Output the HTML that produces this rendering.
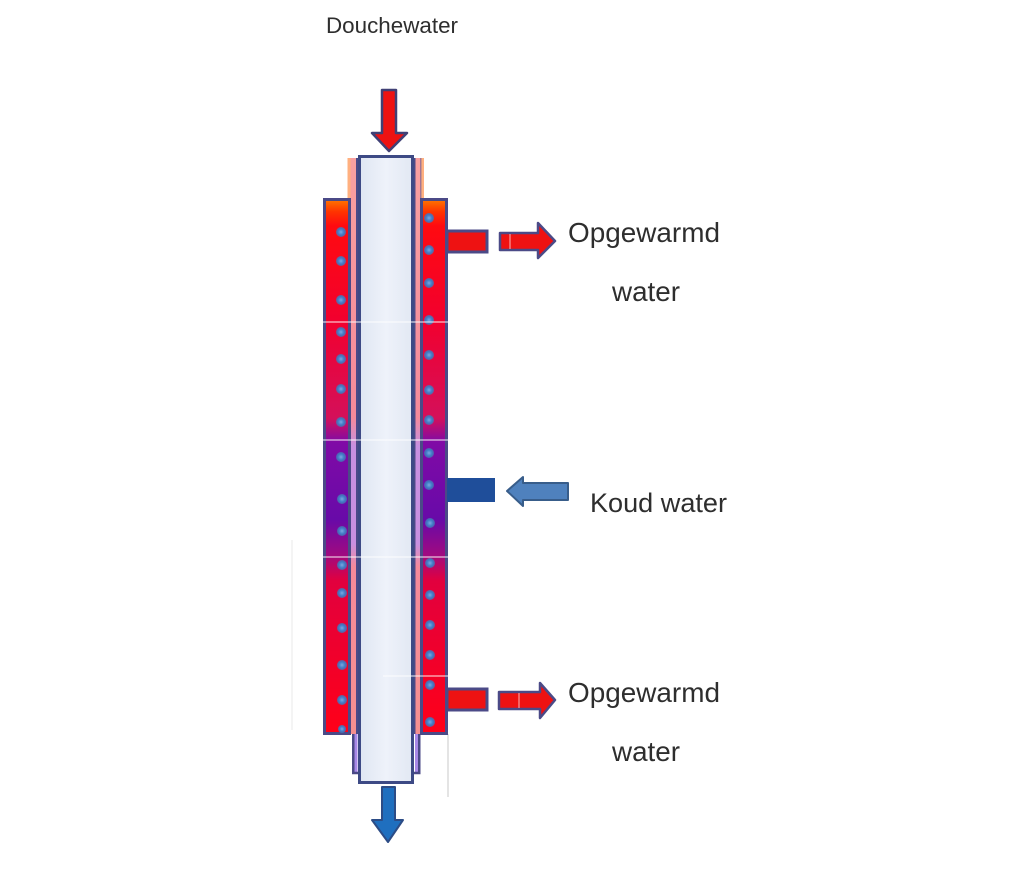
<!DOCTYPE html>
<html>
<head>
<meta charset="utf-8">
<style>
html,body{margin:0;padding:0;background:#fff;}
svg{display:block;}
text{font-family:"Liberation Sans",Arial,sans-serif;fill:#2e2e2e;}
</style>
</head>
<body>
<svg width="1020" height="880" viewBox="0 0 1020 880" xmlns="http://www.w3.org/2000/svg">
<defs>
<linearGradient id="jg" gradientUnits="userSpaceOnUse" x1="0" y1="199" x2="0" y2="733">
<stop offset="0" stop-color="#ff7a00"/>
<stop offset="0.024" stop-color="#ff3300"/>
<stop offset="0.05" stop-color="#ff0a10"/>
<stop offset="0.227" stop-color="#f2002e"/>
<stop offset="0.41" stop-color="#d4105a"/>
<stop offset="0.455" stop-color="#800aa6"/>
<stop offset="0.6" stop-color="#680aa8"/>
<stop offset="0.667" stop-color="#a00a80"/>
<stop offset="0.715" stop-color="#e2003e"/>
<stop offset="1" stop-color="#ff0018"/>
</linearGradient>
<linearGradient id="tg" x1="0" y1="0" x2="1" y2="0">
<stop offset="0" stop-color="#dfe6f2"/>
<stop offset="0.5" stop-color="#eef2fa"/>
<stop offset="1" stop-color="#e2e8f3"/>
</linearGradient>
<linearGradient id="pg" gradientUnits="userSpaceOnUse" x1="0" y1="158" x2="0" y2="734">
<stop offset="0" stop-color="#f8a0a0"/>
<stop offset="0.45" stop-color="#f58a9a"/>
<stop offset="0.5" stop-color="#c890e0"/>
<stop offset="0.67" stop-color="#c890e0"/>
<stop offset="0.71" stop-color="#f58a9a"/>
<stop offset="1" stop-color="#f59090"/>
</linearGradient>
<radialGradient id="dg">
<stop offset="0" stop-color="#7aa8e0"/>
<stop offset="0.6" stop-color="#3f7cc6"/>
<stop offset="1" stop-color="#4a6fb0" stop-opacity="0.8"/>
</radialGradient>
</defs>
<rect width="1020" height="880" fill="#fff"/>

<!-- faint lines -->
<line x1="448" y1="734" x2="448" y2="797" stroke="#e4e4e4" stroke-width="2"/>
<line x1="292" y1="540" x2="292" y2="730" stroke="#f0f0f0" stroke-width="1.5"/>

<!-- top red arrow -->
<polygon points="382,90 396,90 396,133 407,133 389,151 372,133 382,133" fill="#ee1212" stroke="#404075" stroke-width="2.5" stroke-linejoin="round"/>

<!-- orange tint above jacket -->
<rect x="347.5" y="158" width="3" height="41" fill="#ffb080"/>
<rect x="421" y="158" width="3" height="41" fill="#ffb080"/>

<!-- pink lines -->
<rect x="350.5" y="158" width="6" height="576" fill="url(#pg)"/>
<rect x="415" y="158" width="6" height="576" fill="url(#pg)"/>
<!-- dark separators -->
<rect x="356" y="158" width="3" height="576" fill="#4b4a87"/>
<rect x="413" y="158" width="2.5" height="576" fill="#4b4a87"/>
<rect x="420" y="158" width="1.5" height="41" fill="#6a5a90" opacity="0.6"/>

<!-- jackets -->
<rect x="324.5" y="199.5" width="25" height="534" fill="url(#jg)" stroke="#4b4a87" stroke-width="3"/>
<rect x="421.5" y="199.5" width="25" height="534" fill="url(#jg)" stroke="#4b4a87" stroke-width="3"/>

<!-- bottom pipe section -->
<rect x="352" y="734" width="2.5" height="40" fill="#4b4a87"/>
<rect x="354.5" y="734" width="3" height="40" fill="#a888e8"/>
<rect x="415" y="734" width="3" height="40" fill="#a888e8"/>
<rect x="418" y="734" width="2.5" height="40" fill="#4b4a87"/>
<line x1="352" y1="773" x2="361" y2="773" stroke="#4b4a87" stroke-width="2.5"/>
<line x1="412" y1="773" x2="420.5" y2="773" stroke="#4b4a87" stroke-width="2.5"/>

<!-- inner tube -->
<rect x="359.5" y="156.5" width="53" height="626" fill="url(#tg)" stroke="#3d4a85" stroke-width="3"/>

<!-- dots -->
<g fill="url(#dg)">
<circle cx="341" cy="232" r="5"/><circle cx="341" cy="261" r="5"/><circle cx="341" cy="300" r="5"/>
<circle cx="341" cy="332" r="5"/><circle cx="341" cy="359" r="5"/><circle cx="341" cy="389" r="5"/>
<circle cx="341" cy="422" r="5"/><circle cx="341" cy="457" r="5"/><circle cx="342" cy="499" r="5"/>
<circle cx="342" cy="531" r="5"/><circle cx="342" cy="565" r="5"/><circle cx="342" cy="593" r="5"/>
<circle cx="342" cy="628" r="5"/><circle cx="342" cy="665" r="5"/><circle cx="342" cy="700" r="5"/>
<circle cx="342" cy="729" r="4"/>
<circle cx="429" cy="218" r="5"/><circle cx="429" cy="250" r="5"/><circle cx="429" cy="283" r="5"/>
<circle cx="429" cy="320" r="5"/><circle cx="429" cy="355" r="5"/><circle cx="429" cy="390" r="5"/>
<circle cx="429" cy="420" r="5"/><circle cx="429" cy="453" r="5"/><circle cx="429" cy="485" r="5"/>
<circle cx="430" cy="523" r="5"/><circle cx="430" cy="563" r="5"/><circle cx="430" cy="595" r="5"/>
<circle cx="430" cy="625" r="5"/><circle cx="430" cy="655" r="5"/><circle cx="430" cy="685" r="5"/>
<circle cx="430" cy="722" r="5"/>
</g>

<!-- slice artifact lines -->
<g stroke="#ffffff" stroke-width="1.2" opacity="0.75">
<line x1="323" y1="322" x2="449" y2="322"/>
<line x1="323" y1="440" x2="449" y2="440"/>
<line x1="323" y1="557" x2="449" y2="557"/>
<line x1="383" y1="676" x2="448" y2="676"/>
</g>

<!-- top outlet -->
<rect x="447" y="231" width="40" height="21" fill="#ee1212" stroke="#4b4a87" stroke-width="3"/>
<polygon points="500,233 538,233 538,223 555,241 538,258 538,250 500,250" fill="#ee1212" stroke="#4b4a87" stroke-width="2.5" stroke-linejoin="round"/>
<line x1="510" y1="234" x2="510" y2="249" stroke="#fff" stroke-width="1" opacity="0.7"/>

<!-- cold water -->
<rect x="447" y="478" width="48" height="24" fill="#1f4e9a"/>
<polygon points="507,491 523,477 523,483 568,483 568,500 523,500 523,506" fill="#4f81bd" stroke="#385d8a" stroke-width="2" stroke-linejoin="round"/>

<!-- bottom outlet -->
<rect x="447" y="689" width="40" height="21" fill="#ee1212" stroke="#4b4a87" stroke-width="3"/>
<polygon points="499,692 540,692 540,683 555,700 540,718 540,709 499,709" fill="#ee1212" stroke="#4b4a87" stroke-width="2.5" stroke-linejoin="round"/>
<line x1="519" y1="693" x2="519" y2="708" stroke="#fff" stroke-width="1" opacity="0.7"/>

<!-- bottom blue arrow -->
<polygon points="382,787 395,787 395,820 403,820 388,842 372,820 382,820" fill="#1f6fbf" stroke="#2c4c86" stroke-width="2" stroke-linejoin="round"/>

<!-- labels -->
<text x="326" y="33" font-size="22" textLength="132" lengthAdjust="spacingAndGlyphs">Douchewater</text>
<text x="568" y="242" font-size="28" textLength="152" lengthAdjust="spacingAndGlyphs">Opgewarmd</text>
<text x="612" y="301" font-size="28" textLength="68" lengthAdjust="spacingAndGlyphs">water</text>
<text x="590" y="512" font-size="27" textLength="137" lengthAdjust="spacingAndGlyphs">Koud water</text>
<text x="568" y="702" font-size="28" textLength="152" lengthAdjust="spacingAndGlyphs">Opgewarmd</text>
<text x="612" y="761" font-size="28" textLength="68" lengthAdjust="spacingAndGlyphs">water</text>
</svg>
</body>
</html>
